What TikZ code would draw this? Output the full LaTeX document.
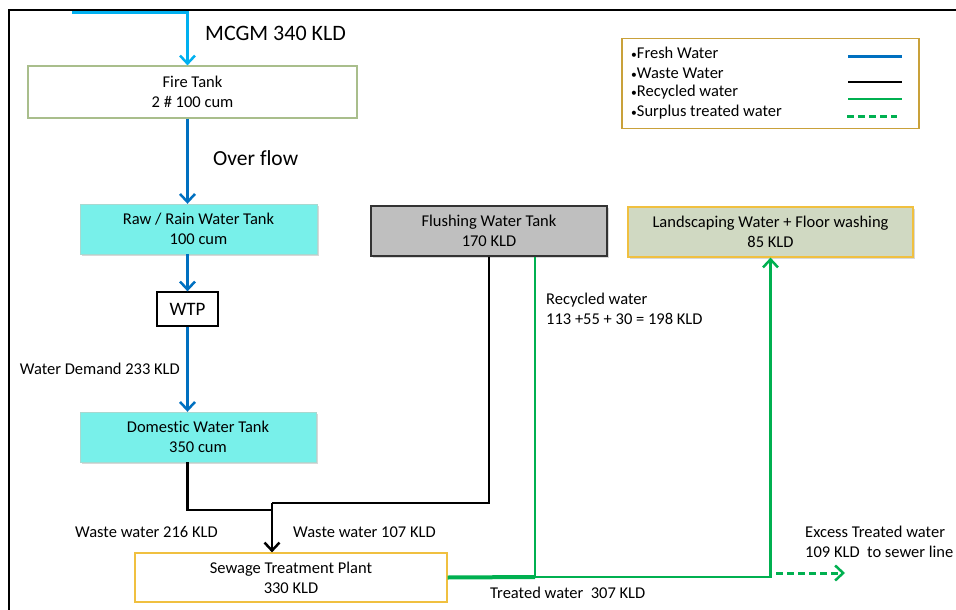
\documentclass[tikz,border=0pt]{standalone}
\usepackage{fontspec}
\setmainfont{Carlito}[Ligatures=NoCommon]
\usepackage{tikz}
\usetikzlibrary{arrows.meta,positioning,shadows}
\definecolor{sourceblue}{HTML}{00B0F0}
\definecolor{freshblue}{HTML}{0070C0}
\definecolor{recyclegreen}{HTML}{00B050}
\definecolor{tankcyan}{HTML}{78F0EA}
\definecolor{tankedge}{HTML}{A8D8D0}
\definecolor{flushgray}{HTML}{BFBFBF}
\definecolor{landfill}{HTML}{D0D9C2}
\definecolor{goldedge}{HTML}{F0C040}
\definecolor{legendgold}{HTML}{C9A13A}
\definecolor{fireedge}{HTML}{A9BE8C}

\tikzset{
  tankbox/.style={draw,align=center,inner sep=0pt,font=\fontsize{16.5}{20}\selectfont},
  shadowed/.style={drop shadow={shadow xshift=2pt,shadow yshift=-2pt,fill=black!30}},
  freshline/.style={draw=freshblue,line width=3pt},
  wasteline/.style={draw=black,line width=2.5pt},
  recline/.style={draw=recyclegreen,line width=2.5pt},
  tip/.style={-{Straight Barb[length=8pt,width=15pt,line width=2.5pt]}},
  lbl/.style={font=\fontsize{16.5}{20.5}\selectfont,inner sep=0pt,align=left}
}

\begin{document}
\begin{tikzpicture}[x=1pt,y=-1pt]
  \useasboundingbox (0,0) rectangle (956,610);
  \draw[line width=1.3pt] (9,640) -- (9,10) -- (980,10);

  % tanks and plants
  \node[tankbox,draw=fireedge,line width=1.2pt,minimum width=329,minimum height=52] (fire) at (192.5,92) {Fire Tank\\2 \# 100 cum};
  \node[tankbox,shadowed,fill=tankcyan,draw=tankedge,minimum width=237,minimum height=50] (raw) at (198.5,229) {Raw / Rain Water Tank\\100 cum};
  \node[tankbox,fill=white,line width=1.3pt,minimum width=61,minimum height=34,font=\fontsize{19}{22}\selectfont] (wtp) at (187.5,309) {WTP};
  \node[tankbox,shadowed,fill=tankcyan,draw=tankedge,minimum width=236,minimum height=50] (dom) at (198,437) {Domestic Water Tank\\350 cum};
  \node[tankbox,shadowed,fill=flushgray,line width=1.2pt,draw=black!80,minimum width=236,minimum height=50] (flush) at (489,231) {Flushing Water Tank\\170 KLD};
  \node[tankbox,shadowed,fill=landfill,draw=goldedge,line width=1.2pt,minimum width=285,minimum height=50] (land) at (770.5,232) {Landscaping Water + Floor washing\\85 KLD};
  \node[tankbox,fill=white,draw=goldedge,line width=1.2pt,minimum width=312,minimum height=49] (stp) at (291,577.5) {Sewage Treatment Plant\\330 KLD};

  % legend
  \node[draw=legendgold,line width=1.5pt,minimum width=297,minimum height=90,inner sep=0pt] (legend) at (770.5,83.5) {};
  \foreach \txt/\y in {Fresh Water/53,Waste Water/73,Recycled water/92,Surplus treated water/112}
    \node[lbl,anchor=west] at (631,\y) {\scalebox{.7}{•}\txt};
  \draw[freshline] (848,57) -- (902,57);
  \draw[wasteline] (848,82) -- (902,82);
  \draw[recline] (848,99) -- (902,99);
  \draw[recline,line width=3pt,dashed,dash pattern=on 7pt off 4pt] (847,116) -- (897,116);

  % fresh water
  \coordinate (mcgm) at (72,13);
  \draw[draw=sourceblue,line width=3pt,tip] (mcgm) -| (fire.north -| wtp);
  \node[anchor=west,inner sep=0pt,font=\fontsize{22}{26}\selectfont] (mcgmlbl) at (205,33) {MCGM 340 KLD};
  \draw[freshline,tip] (fire.south -| wtp) -- (raw.north -| wtp);
  \node[anchor=west,inner sep=0pt,font=\fontsize{21.5}{25}\selectfont] (overlbl) at (213,158) {Over flow};
  \draw[freshline,tip] (raw.south -| wtp) -- (wtp.north);
  \draw[freshline,tip] (wtp.south) -- (dom.north -| wtp);
  \node[lbl,anchor=east] (demandlbl) at (180,369) {Water Demand 233 KLD};

  % waste water
  \coordinate (wjoin) at (272,503);
  \coordinate (wjoinL) at (273,510);
  \draw[wasteline] (dom.south -| wtp) |- (wjoinL);
  \draw[wasteline] (flush.south) |- (wjoin);
  \draw[wasteline,tip] (wjoin) -- (wjoin |- stp.north);
  \node[lbl,anchor=west] (w216) at (75,532) {Waste water 216 KLD};
  \node[lbl,anchor=west] (w107) at (293,532) {Waste water 107 KLD};

  % treated and recycled water
  \coordinate (tjoin) at (535,577);
  \coordinate (sjoin) at (776,573);
  \coordinate (excess) at (845,573);
  \draw[recline,line width=4pt] (stp.east) -- (tjoin);
  \draw[recline] (tjoin) -- (tjoin |- flush.south);
  \draw[recline,tip] (tjoin) -| (land.south);
  \draw[recline,line width=3pt,dashed,dash pattern=on 7pt off 4pt,tip] (sjoin) -- (excess);
  \node[lbl,anchor=west] (reclbl) at (546,309) {Recycled water\\113 +55 + 30 = 198 KLD};
  \node[lbl,anchor=west] (treatlbl) at (490,593) {Treated water~ 307 KLD};
  \node[lbl,anchor=west] (excesslbl) at (805,542) {Excess Treated water\\109 KLD~ to sewer line};
\end{tikzpicture}
\end{document}
